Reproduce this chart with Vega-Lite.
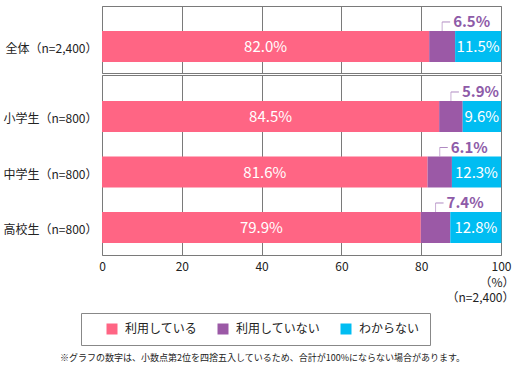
{
  "$schema": "https://vega.github.io/schema/vega-lite/v6.json",
  "padding": {"left": 2, "top": 5, "right": 5, "bottom": 5},
  "background": "white",
  "datasets": {
    "d": [
      {"group": "全体（n=2,400）", "ans": "利用している", "v": 82.0},
      {"group": "全体（n=2,400）", "ans": "利用していない", "v": 6.5},
      {"group": "全体（n=2,400）", "ans": "わからない", "v": 11.5},
      {"group": "小学生（n=800）", "ans": "利用している", "v": 84.5},
      {"group": "小学生（n=800）", "ans": "利用していない", "v": 5.9},
      {"group": "小学生（n=800）", "ans": "わからない", "v": 9.6},
      {"group": "中学生（n=800）", "ans": "利用している", "v": 81.6},
      {"group": "中学生（n=800）", "ans": "利用していない", "v": 6.1},
      {"group": "中学生（n=800）", "ans": "わからない", "v": 12.3},
      {"group": "高校生（n=800）", "ans": "利用している", "v": 79.9},
      {"group": "高校生（n=800）", "ans": "利用していない", "v": 7.4},
      {"group": "高校生（n=800）", "ans": "わからない", "v": 12.8}
    ]
  },
  "title": {
    "text": "※グラフの数字は、小数点第2位を四捨五入しているため、合計が100%にならない場合があります。",
    "orient": "bottom",
    "anchor": "start",
    "frame": "group",
    "fontSize": 9,
    "fontWeight": "normal",
    "color": "#222222",
    "offset": 8,
    "dx": -42
  },
  "config": {
    "font": "Noto Sans CJK JP",
    "view": {"stroke": "#7a7a7a", "strokeWidth": 1},
    "concat": {"spacing": 0},
    "axis": {
      "gridColor": "#7a7a7a",
      "gridOpacity": 1,
      "gridWidth": 1,
      "domain": false,
      "ticks": false,
      "labelFlush": false,
      "labelColor": "#222222",
      "titleColor": "#222222",
      "labelFont": "Noto Sans CJK JP",
      "titleFont": "Noto Sans CJK JP"
    },
    "legend": {
      "orient": "none",
      "legendX": -21,
      "legendY": 307,
      "direction": "horizontal",
      "symbolType": "square",
      "symbolSize": 121,
      "symbolStrokeWidth": 0,
      "labelFontSize": 12,
      "labelOffset": 7,
      "labelColor": "#222222",
      "columnPadding": 4,
      "padding": 10,
      "symbolOffset": 15,
      "strokeColor": "#888888"
    }
  },
  "resolve": {"scale": {"color": "shared"}},
  "vconcat": [
    {
      "width": 399,
      "height": 67,
      "data": {"name": "d"},
      "transform": [
        {"filter": "datum.group === '全体（n=2,400）'"},
        {"calculate": "indexof(['利用している','利用していない','わからない'], datum.ans)", "as": "k"},
        {"stack": "v", "groupby": ["group"], "sort": [{"field": "k"}], "as": ["s", "e"]},
        {"calculate": "(datum.s + datum.e) / 2", "as": "mid"},
        {"calculate": "format(datum.v, '.1f') + '%'", "as": "lbl"}
      ],
      "encoding": {
        "y": {
          "field": "group", "type": "nominal", "title": null,
          "scale": {"paddingInner": 0, "paddingOuter": 0.58, "align": 0.694},
          "axis": {"labelFontSize": 12, "labelPadding": 5, "labelOffset": 3}
        }
      },
      "layer": [
        {
          "mark": {"type": "bar"},
          "encoding": {
            "x": {"field": "s", "type": "quantitative", "scale": {"domain": [0, 100], "nice": false},
                  "axis": {"values": [0, 20, 40, 60, 80, 100], "labels": false, "title": null, "grid": true}},
            "x2": {"field": "e"},
            "color": {"field": "ans", "type": "nominal",
                      "scale": {"domain": ["利用している", "利用していない", "わからない"], "range": ["#FF6584", "#9B59A6", "#00BDF2"]},
                      "legend": {"title": null}}
          }
        },
        {
          "transform": [{"filter": "datum.ans !== '利用していない'"}],
          "mark": {"type": "text", "color": "white", "fontSize": 15, "baseline": "middle", "yOffset": 1},
          "encoding": {"x": {"field": "mid", "type": "quantitative"}, "text": {"field": "lbl"}}
        },
        {
          "transform": [{"filter": "datum.ans === '利用していない'"}],
          "mark": {"type": "text", "color": "#8E5BA8", "fontSize": 15, "fontWeight": "bold", "align": "left", "baseline": "middle", "dx": 11, "yOffset": -24},
          "encoding": {"x": {"field": "mid", "type": "quantitative"}, "text": {"field": "lbl"}}
        },
        {
          "transform": [{"filter": "datum.ans === '利用していない'"}],
          "mark": {"type": "tick", "color": "#B08AC2", "size": 9, "thickness": 1, "yOffset": -20},
          "encoding": {"x": {"field": "mid", "type": "quantitative"}}
        },
        {
          "transform": [{"filter": "datum.ans === '利用していない'"}],
          "mark": {"type": "rule", "color": "#B08AC2", "strokeWidth": 1, "yOffset": -24.5, "x2Offset": 8},
          "encoding": {"x": {"field": "mid", "type": "quantitative"}, "x2": {"field": "mid"}}
        }
      ]
    },
    {
      "width": 399,
      "height": 180,
      "data": {"name": "d"},
      "transform": [
        {"filter": "datum.group !== '全体（n=2,400）'"},
        {"calculate": "indexof(['利用している','利用していない','わからない'], datum.ans)", "as": "k"},
        {"stack": "v", "groupby": ["group"], "sort": [{"field": "k"}], "as": ["s", "e"]},
        {"calculate": "(datum.s + datum.e) / 2", "as": "mid"},
        {"calculate": "format(datum.v, '.1f') + '%'", "as": "lbl"}
      ],
      "encoding": {
        "y": {
          "field": "group", "type": "nominal", "title": null,
          "sort": ["小学生（n=800）", "中学生（n=800）", "高校生（n=800）"],
          "scale": {"paddingInner": 0.4414, "paddingOuter": 0.3423, "align": 0.684},
          "axis": {"labelFontSize": 12, "labelPadding": 5, "labelOffset": 3}
        }
      },
      "layer": [
        {
          "mark": {"type": "bar"},
          "encoding": {
            "x": {"field": "s", "type": "quantitative", "scale": {"domain": [0, 100], "nice": false},
                  "axis": {"values": [0, 20, 40, 60, 80, 100], "grid": true, "labelFontSize": 12, "labelPadding": 6,
                           "title": ["（%）", "（n=2,400）"], "titleFontSize": 12, "titleFontWeight": "normal",
                           "titleAlign": "right", "titleAnchor": "end", "titleBaseline": "top",
                           "titleX": 412, "titleY": 22, "titleLineHeight": 15}},
            "x2": {"field": "e"},
            "color": {"field": "ans", "type": "nominal",
                      "scale": {"domain": ["利用している", "利用していない", "わからない"], "range": ["#FF6584", "#9B59A6", "#00BDF2"]},
                      "legend": {"title": null}}
          }
        },
        {
          "transform": [{"filter": "datum.ans !== '利用していない'"}],
          "mark": {"type": "text", "color": "white", "fontSize": 15, "baseline": "middle", "yOffset": 1},
          "encoding": {"x": {"field": "mid", "type": "quantitative"}, "text": {"field": "lbl"}}
        },
        {
          "transform": [{"filter": "datum.ans === '利用していない'"}],
          "mark": {"type": "text", "color": "#8E5BA8", "fontSize": 15, "fontWeight": "bold", "align": "left", "baseline": "middle", "dx": 11, "yOffset": -24},
          "encoding": {"x": {"field": "mid", "type": "quantitative"}, "text": {"field": "lbl"}}
        },
        {
          "transform": [{"filter": "datum.ans === '利用していない'"}],
          "mark": {"type": "tick", "color": "#B08AC2", "size": 9, "thickness": 1, "yOffset": -20},
          "encoding": {"x": {"field": "mid", "type": "quantitative"}}
        },
        {
          "transform": [{"filter": "datum.ans === '利用していない'"}],
          "mark": {"type": "rule", "color": "#B08AC2", "strokeWidth": 1, "yOffset": -24.5, "x2Offset": 8},
          "encoding": {"x": {"field": "mid", "type": "quantitative"}, "x2": {"field": "mid"}}
        }
      ]
    }
  ]
}
